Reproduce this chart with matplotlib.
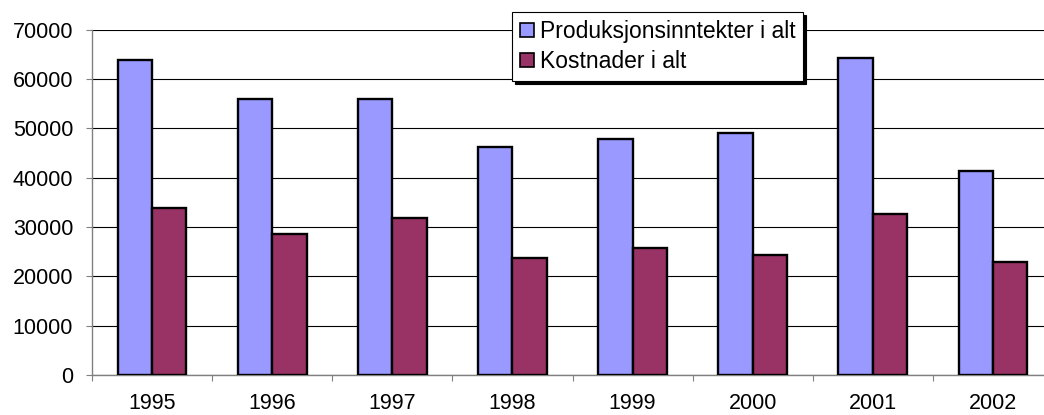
import numpy as np
from matplotlib import pyplot as plt

plt.rcParams['font.family'] = ['Liberation Sans', 'DejaVu Sans']

years = ['1995', '1996', '1997', '1998', '1999', '2000', '2001', '2002']
inntekter = [63800, 56000, 55850, 46300, 47800, 49100, 64200, 41400]  # Produksjonsinntekter i alt
kostnader = [33800, 28500, 31900, 23700, 25800, 24300, 32700, 22900]  # Kostnader i alt
yticks = [0, 10000, 20000, 30000, 40000, 50000, 60000, 70000]

W, H = 1044, 415
fig = plt.figure(figsize=(W / 100, H / 100), dpi=100)
# plot area runs a bit past the right edge of the picture, like the source
ax = fig.add_axes([92 / W, 1 - 375 / H, (1053 - 92) / W, (375 - 29.7) / H])

x = np.arange(len(years))
w = 1 / 3.5  # excel gap width 150%
ax.bar(x - w / 2, inntekter, w, color='#9999FF', edgecolor='black', linewidth=1.7,
       label='Produksjonsinntekter i alt', zorder=3)
ax.bar(x + w / 2, kostnader, w, color='#993366', edgecolor='black', linewidth=1.7,
       label='Kostnader i alt', zorder=3)

ax.set_xlim(-0.5, len(years) - 0.5)
ax.set_ylim(0, 70000)
ax.set_yticks(yticks)
ax.set_yticklabels([str(v) for v in yticks])
ax.yaxis.grid(True, color='black', linewidth=0.8, zorder=0)

ax.set_xticks(x)
ax.set_xticklabels(years)
ax.set_xticks(np.arange(len(years) + 1) - 0.5, minor=True)
ax.tick_params(axis='x', which='major', length=0, pad=13, labelsize=15.5)
ax.tick_params(axis='x', which='minor', length=4.5, width=0.8, color='#808080', direction='out')
ax.tick_params(axis='y', length=4.5, width=0.8, color='#808080', pad=9, labelsize=15.5)

for s in ['top', 'right']:
    ax.spines[s].set_visible(False)
for s in ['left', 'bottom']:
    ax.spines[s].set_color('#808080')
    ax.spines[s].set_linewidth(1.0)

leg = ax.legend(loc='upper left', bbox_to_anchor=(512 / W, 1 - 12 / H), bbox_transform=fig.transFigure,
                fancybox=False, shadow={'color': 'black', 'alpha': 1}, framealpha=1,
                edgecolor='black', fontsize=16.5, handlelength=0.6, handleheight=0.6,
                handletextpad=0.25, borderpad=0.35, labelspacing=0.3, borderaxespad=0)
leg.get_frame().set_linewidth(0.8)
for p in leg.get_patches():
    p.set_linewidth(1.2)

plt.savefig('out.png', dpi=100)
